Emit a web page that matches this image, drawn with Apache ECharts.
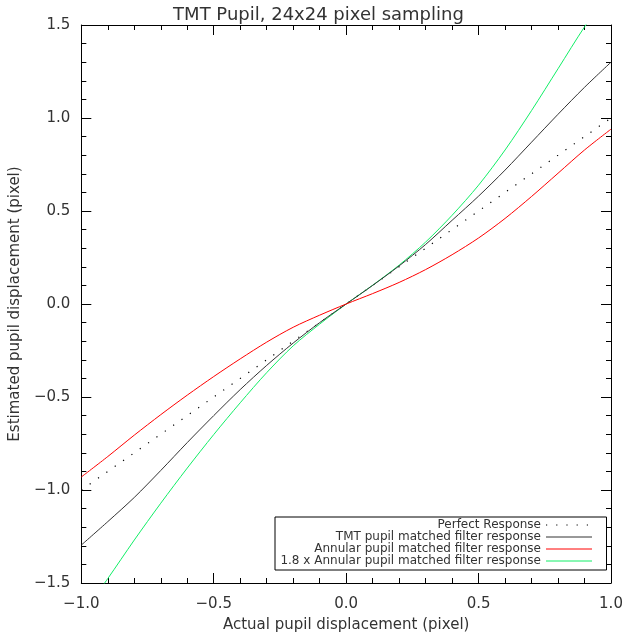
<!DOCTYPE html>
<html>
<head>
<meta charset="utf-8">
<script src="https://cdn.jsdelivr.net/npm/echarts@6/dist/echarts.min.js"></script>
<style>
  html, body { margin: 0; padding: 0; background: #fff; }
  #chart { width: 637px; height: 638px; }
</style>
</head>
<body>
<div id="chart"></div>
<script>
// actual displacement (pixel)
const xs = [-1.0, -0.9, -0.8, -0.7, -0.6, -0.5, -0.4, -0.3, -0.2, -0.1, 0.0,
  0.1, 0.2, 0.3, 0.4, 0.5, 0.6, 0.7, 0.8, 0.9, 1.0]
// estimated displacement
const perfect = [-1.0, -0.9, -0.8, -0.7, -0.6, -0.5, -0.4, -0.3, -0.2, -0.1, 0.0,
  0.1, 0.2, 0.3, 0.4, 0.5, 0.6, 0.7, 0.8, 0.9, 1.0]
const tmt = [-1.296, -1.17, -1.04, -0.895, -0.745, -0.60, -0.46, -0.33, -0.21, -0.10, 0.0,
  0.10, 0.205, 0.32, 0.45, 0.58, 0.72, 0.87, 1.02, 1.165, 1.30]
const annular = [-0.93, -0.82, -0.705, -0.595, -0.49, -0.39, -0.295, -0.205, -0.125, -0.06, 0.0,
  0.056, 0.116, 0.185, 0.265, 0.355, 0.46, 0.578, 0.703, 0.828, 0.94]
const annular18 = [-1.674, -1.476, -1.269, -1.071, -0.882, -0.702, -0.531, -0.369, -0.225, -0.108, 0.0,
  0.101, 0.209, 0.333, 0.477, 0.639, 0.828, 1.040, 1.265, 1.490, 1.692]

const seriesNames = [
  'Perfect Response',
  'TMT pupil matched filter response',
  'Annular pupil matched filter response',
  '1.8 x Annular pupil matched filter response'
]

const FONT = 'DejaVu Sans'
const INK = '#333'

const pairs = (ys) => xs.map((x, i) => [x, ys[i]])
const fmt = (v) => {
  const s = Math.abs(v) < 1e-9 ? '0.0' : v.toFixed(1)
  return s.replace('-', '\u2212')
}

const baseAxis = {
  type: 'value',
  interval: 0.5,
  axisLine: { show: true, onZero: false, lineStyle: { color: '#000', width: 1 } },
  axisTick: { show: true, inside: true, length: 10, lineStyle: { color: '#000' } },
  minorTick: { show: true, splitNumber: 5, length: 5, lineStyle: { color: '#000' } },
  splitLine: { show: false },
  minorSplitLine: { show: false }
}

const chart = echarts.init(document.getElementById('chart'), null, { renderer: 'canvas' })

chart.setOption({
  backgroundColor: '#fff',
  animation: false,
  title: {
    text: 'TMT Pupil, 24x24 pixel sampling',
    left: 'center',
    top: 1,
    textStyle: { fontFamily: FONT, fontSize: 18, fontWeight: 'normal', color: INK }
  },
  grid: { left: 78, right: 26, top: 25, bottom: 55 },
  legend: {
    orient: 'vertical',
    left: 275,
    top: 517,
    align: 'right',
    itemWidth: 46,
    itemHeight: 6,
    itemGap: 0,
    padding: [2, 14, 3, 4],
    backgroundColor: '#fff',
    borderColor: '#000',
    borderWidth: 1,
    borderRadius: 0,
    data: seriesNames,
    itemStyle: { opacity: 0 },
    lineStyle: { width: 1 },
    textStyle: {
      fontFamily: FONT, fontSize: 12, color: INK, lineHeight: 12,
      width: 262, align: 'right', padding: [0, 0, 0, 0]
    }
  },
  xAxis: [
    Object.assign({}, baseAxis, {
      min: -1.0, max: 1.0,
      position: 'bottom',
      name: 'Actual pupil displacement (pixel)',
      nameLocation: 'middle',
      nameGap: 35,
      nameTextStyle: { fontFamily: FONT, fontSize: 15, color: INK },
      axisLabel: { fontFamily: FONT, fontSize: 15, color: INK, margin: 14, formatter: fmt }
    }),
    Object.assign({}, baseAxis, {
      min: -1.0, max: 1.0,
      position: 'top',
      axisLabel: { show: false }
    })
  ],
  yAxis: [
    Object.assign({}, baseAxis, {
      min: -1.5, max: 1.5,
      position: 'left',
      name: 'Estimated pupil displacement (pixel)',
      nameLocation: 'middle',
      nameGap: 50,
      nameTextStyle: { fontFamily: FONT, fontSize: 15, color: INK },
      axisLabel: { fontFamily: FONT, fontSize: 15, color: INK, margin: 11, formatter: fmt }
    }),
    Object.assign({}, baseAxis, {
      min: -1.5, max: 1.5,
      position: 'right',
      axisLabel: { show: false }
    })
  ],
  series: [
    {
      name: seriesNames[0], type: 'line', data: pairs(perfect),
      symbol: 'none', clip: true,
      itemStyle: { color: '#000' },
      lineStyle: { color: '#000', width: 1.2, type: [1.2, 9] }
    },
    {
      name: seriesNames[3], type: 'line', data: pairs(annular18),
      symbol: 'none', smooth: 0.3, clip: true,
      itemStyle: { color: '#11ee66' },
      lineStyle: { color: '#11ee66', width: 1 }
    },
    {
      name: seriesNames[1], type: 'line', data: pairs(tmt),
      symbol: 'none', smooth: 0.3, clip: true,
      itemStyle: { color: '#333' },
      lineStyle: { color: '#333', width: 1 }
    },
    {
      name: seriesNames[2], type: 'line', data: pairs(annular),
      symbol: 'none', smooth: 0.3, clip: true,
      itemStyle: { color: '#ff0000' },
      lineStyle: { color: '#ff0000', width: 1 }
    }
  ]
})
</script>
</body>
</html>
